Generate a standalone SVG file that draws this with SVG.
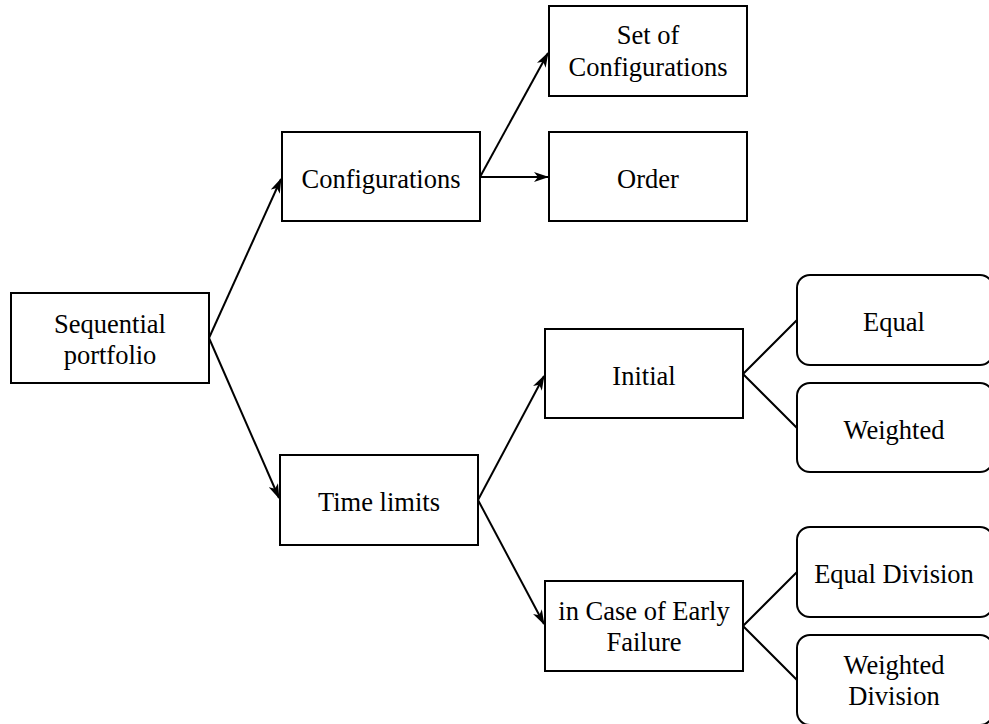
<svg xmlns="http://www.w3.org/2000/svg" width="989" height="724" viewBox="0 0 989 724">
<style>
.box{fill:#fff;stroke:#000;stroke-width:2}
.t{font-family:"Liberation Serif","Times New Roman",serif;font-size:26.5px;fill:#000;text-anchor:middle}
.c{fill:none;stroke:#000;stroke-width:2}
</style>
<defs>
<marker id="arr" viewBox="0 0 15 10" refX="14" refY="5" markerWidth="15" markerHeight="10" markerUnits="userSpaceOnUse" orient="auto">
<path d="M0,0 L15,5 L0,10 L4,5 z" fill="#000"/>
</marker>
</defs>
<rect width="989" height="724" fill="#fff"/>
<g id="connectors">
<path class="c" d="M209,338 L281,179" marker-end="url(#arr)"/>
<path class="c" d="M209,338 L279,498" marker-end="url(#arr)"/>
<path class="c" d="M480,177 L548,53" marker-end="url(#arr)"/>
<path class="c" d="M480,177 L548,177" marker-end="url(#arr)"/>
<path class="c" d="M478,500 L544,376" marker-end="url(#arr)"/>
<path class="c" d="M478,500 L544,624" marker-end="url(#arr)"/>
<path class="c" d="M743,374 L797,320 M743,374 L797,428"/>
<path class="c" d="M743,626 L797,572 M743,626 L797,680"/>
</g>
<g id="sequential"><rect class="box" x="11" y="293" width="198" height="90"/><text class="t" x="110" y="333">Sequential</text><text class="t" x="110" y="364">portfolio</text></g>
<g id="configurations"><rect class="box" x="282" y="132" width="198" height="89"/><text class="t" x="381" y="188">Configurations</text></g>
<g id="set"><rect class="box" x="549" y="6" width="198" height="90"/><text class="t" x="648" y="44">Set of</text><text class="t" x="648" y="76">Configurations</text></g>
<g id="order"><rect class="box" x="549" y="132" width="198" height="89"/><text class="t" x="648" y="188">Order</text></g>
<g id="timelimits"><rect class="box" x="280" y="455" width="198" height="90"/><text class="t" x="379" y="511">Time limits</text></g>
<g id="initial"><rect class="box" x="545" y="329" width="198" height="89"/><text class="t" x="644" y="385">Initial</text></g>
<g id="early"><rect class="box" x="545" y="581" width="198" height="90"/><text class="t" x="644" y="620">in Case of Early</text><text class="t" x="644" y="651">Failure</text></g>
<g id="equal"><rect class="box" x="797" y="275" width="196" height="90" rx="13"/><text class="t" x="894" y="331">Equal</text></g>
<g id="weighted"><rect class="box" x="797" y="383" width="196" height="89" rx="13"/><text class="t" x="894" y="439">Weighted</text></g>
<g id="equaldiv"><rect class="box" x="797" y="527" width="196" height="90" rx="13"/><text class="t" x="894" y="583">Equal Division</text></g>
<g id="weighteddiv"><rect class="box" x="797" y="635" width="196" height="90" rx="13"/><text class="t" x="894" y="674">Weighted</text><text class="t" x="894" y="705">Division</text></g>
</svg>
